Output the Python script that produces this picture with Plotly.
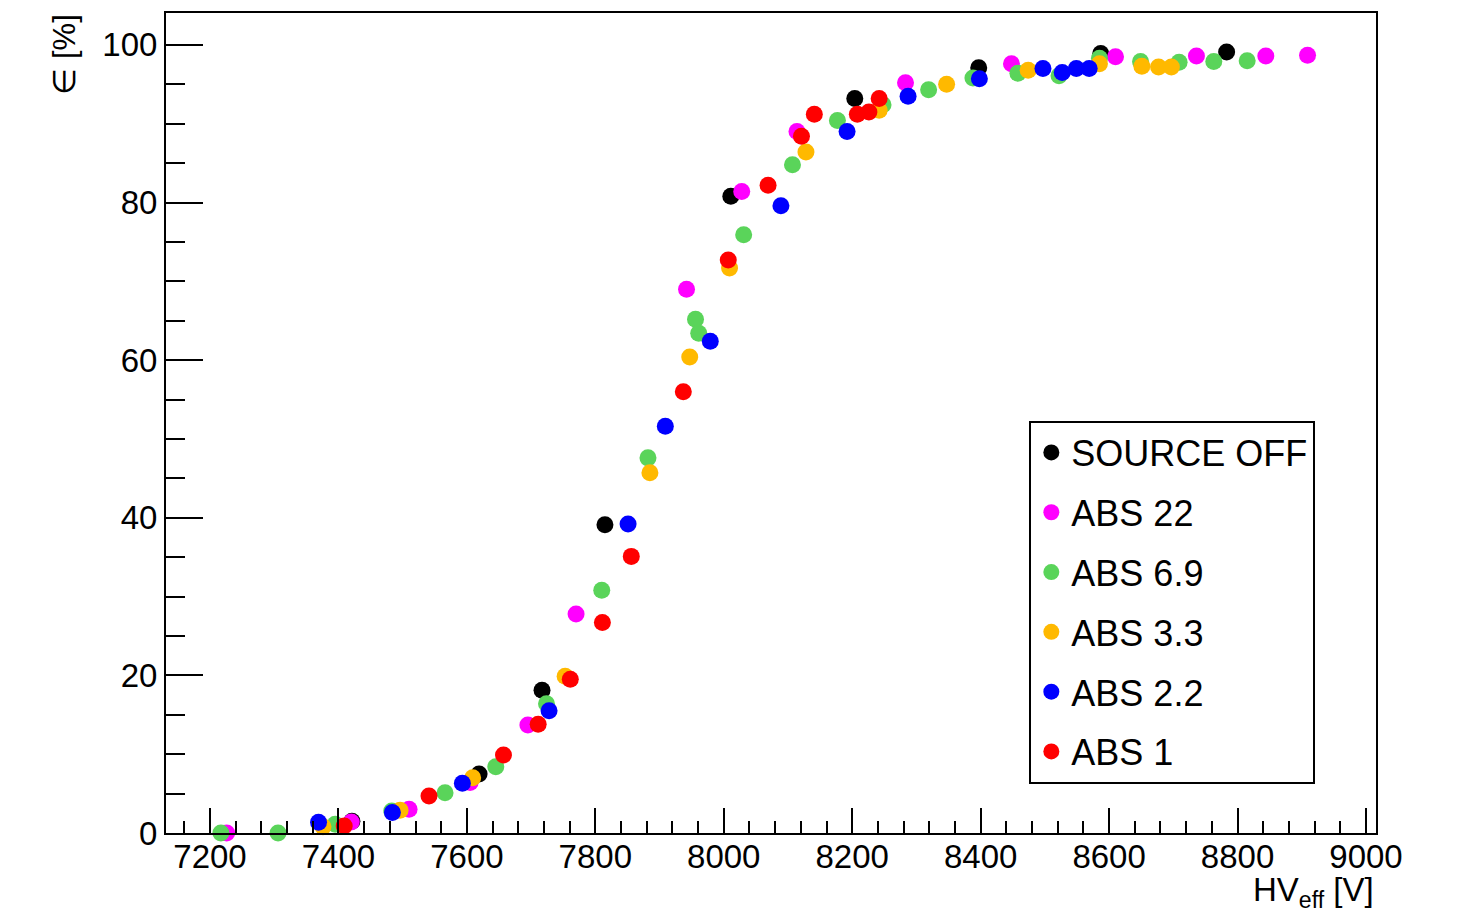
import plotly.graph_objects as go

# ---- data ----
series_names = ["SOURCE OFF", "ABS 22", "ABS 6.9", "ABS 3.3", "ABS 2.2", "ABS 1"]
series_colors = ["#000000", "#ff00ff", "#5ad45a", "#ffb900", "#0000ff", "#ff0000"]

src_off_hv = [7421, 7619, 7717, 7815, 8011, 8204, 8397, 8587, 8783]
src_off_eff = [1.5, 7.5, 18.1, 39.1, 80.8, 93.2, 97.1, 98.9, 99.1]

abs22_hv = [7226, 7420, 7510, 7605, 7695, 7770, 7942, 8028, 8114, 8283, 8448, 8610, 8736, 8844, 8909]
abs22_eff = [0.0, 1.4, 3.0, 6.4, 13.7, 27.8, 69.0, 81.4, 89.0, 95.2, 97.6, 98.5, 98.6, 98.6, 98.7]

abs69_hv = [7217, 7306, 7395, 7483, 7566, 7645, 7724, 7810, 7882, 7956, 7961, 8031, 8107, 8177,
            8248, 8319, 8388, 8458, 8522, 8585, 8649, 8709, 8763, 8815]
abs69_eff = [0.0, 0.0, 1.1, 2.8, 5.1, 8.4, 16.4, 30.8, 47.6, 65.2, 63.4, 75.9, 84.8, 90.4,
             92.4, 94.3, 95.8, 96.4, 96.1, 98.3, 97.9, 97.8, 97.9, 98.0]

abs33_hv = [7376, 7496, 7609, 7753, 7885, 7947, 8009, 8128, 8242, 8347, 8474, 8585, 8651, 8677, 8697]
abs33_eff = [0.8, 2.9, 7.0, 19.9, 45.7, 60.4, 71.7, 86.4, 91.7, 95.0, 96.8, 97.6, 97.3, 97.2, 97.2]

abs22b_hv = [7369, 7484, 7593, 7728, 7851, 7909, 7979, 8089, 8192, 8287, 8398, 8497, 8527, 8549, 8569]
abs22b_eff = [1.35, 2.6, 6.3, 15.5, 39.2, 51.6, 62.4, 79.6, 89.0, 93.5, 95.7, 97.0, 96.5, 97.0, 97.0]

abs1_hv = [7409, 7541, 7657, 7711, 7761, 7811, 7856, 7937, 8007, 8069, 8121, 8141, 8208, 8226, 8242]
abs1_eff = [0.9, 4.7, 9.9, 13.8, 19.5, 26.7, 35.1, 56.0, 72.7, 82.2, 88.4, 91.2, 91.2, 91.5, 93.2]

x_tick_vals = [7200, 7400, 7600, 7800, 8000, 8200, 8400, 8600, 8800, 9000]
y_tick_vals = [0, 20, 40, 60, 80, 100]

all_x = [src_off_hv, abs22_hv, abs69_hv, abs33_hv, abs22b_hv, abs1_hv]
all_y = [src_off_eff, abs22_eff, abs69_eff, abs33_eff, abs22b_eff, abs1_eff]

FONT = "Liberation Sans, Arial, Helvetica, sans-serif"

fig = go.Figure()
for i, (name, color, xs, ys) in enumerate(zip(series_names, series_colors, all_x, all_y)):
    fig.add_trace(go.Scatter(
        x=xs, y=ys, mode="markers", name=name, legendgroup=f"g{i}",
        marker=dict(color=color, size=17, line=dict(width=0)),
        cliponaxis=False,
    ))

fig.update_layout(
    width=1449, height=905,
    margin=dict(l=158, r=81, t=3, b=80),
    paper_bgcolor="white", plot_bgcolor="white",
    font=dict(family=FONT, color="black", size=33),
    showlegend=True,
    legend=dict(
        x=0.7135, y=0.503, xanchor="left", yanchor="top",
        bordercolor="black", borderwidth=2, bgcolor="white",
        font=dict(family=FONT, size=36, color="black"),
        tracegroupgap=10, itemwidth=30,
    ),
    xaxis=dict(
        range=[7131.5, 9015.6], showgrid=False, zeroline=False,
        showline=True, linecolor="black", linewidth=2, mirror=True,
        ticks="inside", ticklen=25, tickwidth=2, tickcolor="black",
        tickvals=x_tick_vals, ticktext=[str(v) for v in x_tick_vals],
        tickfont=dict(family=FONT, size=33), ticklabelstandoff=-7,
        minor=dict(dtick=40, tick0=7200, ticks="inside", ticklen=12, tickwidth=2, tickcolor="black"),
    ),
    yaxis=dict(
        range=[0, 104.05], showgrid=False, zeroline=False,
        showline=True, linecolor="black", linewidth=2, mirror=True,
        ticks="inside", ticklen=37, tickwidth=2, tickcolor="black",
        tickvals=y_tick_vals, ticktext=[str(v) for v in y_tick_vals],
        tickfont=dict(family=FONT, size=33),
        minor=dict(dtick=5, tick0=0, ticks="inside", ticklen=19, tickwidth=2, tickcolor="black"),
    ),
    annotations=[
        dict(text="HV<sub>eff</sub> [V]", xref="paper", yref="paper", x=1.0, y=0,
             xanchor="right", yanchor="top", yshift=-36, showarrow=False,
             font=dict(family=FONT, size=33)),
        dict(text="∈ [%]", xref="paper", yref="paper", x=-0.0846, y=1.0,
             xanchor="center", yanchor="top", textangle=-90, showarrow=False,
             font=dict(family=FONT, size=31)),
    ],
)

fig.write_html("out.html")
